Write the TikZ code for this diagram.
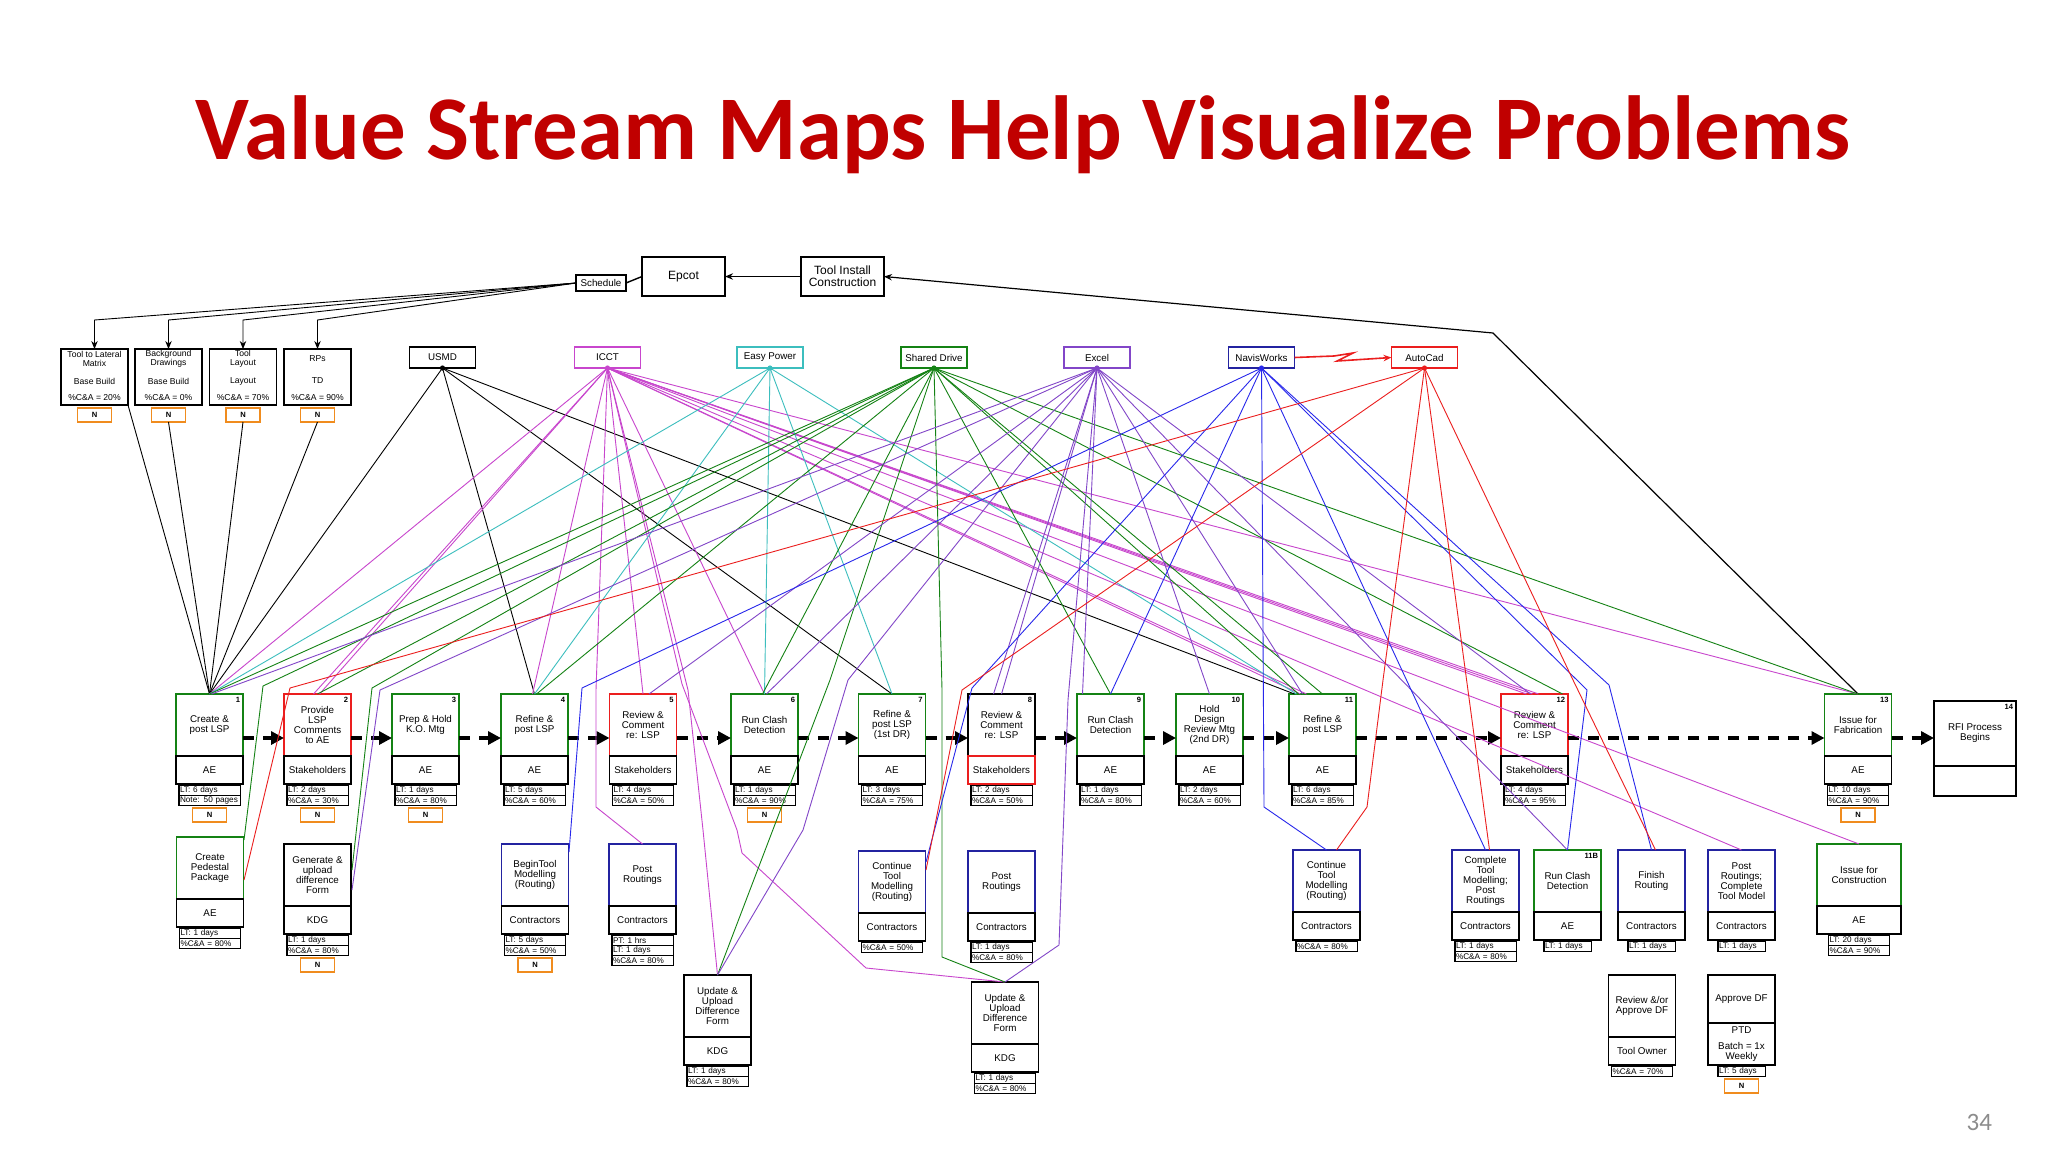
\documentclass[tikz,border=0pt]{standalone}
\usepackage{fontspec}
\setmainfont{Liberation Sans}
\newfontfamily\titlefont{Carlito}
\usetikzlibrary{arrows.meta}
\definecolor{vgreen}{RGB}{20,130,20}
\definecolor{vred}{RGB}{235,30,30}
\definecolor{vnavy}{RGB}{35,35,160}
\definecolor{vblue}{RGB}{40,40,235}
\definecolor{vmag}{RGB}{200,70,205}
\definecolor{vteal}{RGB}{60,190,190}
\definecolor{vpurp}{RGB}{130,70,200}
\definecolor{vorange}{RGB}{240,140,30}
\definecolor{titlered}{RGB}{192,0,0}
\definecolor{pggray}{RGB}{140,140,140}
\newcommand\fsz[1]{\fontsize{#1}{#1}\selectfont}
\tikzset{
  every node/.style={inner sep=0pt, outer sep=0pt},
  sec/.style={draw, line width=0.9pt, minimum width=33.5pt, align=center, font=\fsz{4.9}, anchor=north},
  data/.style={draw, line width=0.7pt, text width=29.5pt, inner xsep=0.6pt, minimum height=5pt, align=left, anchor=north, font=\fsz{4.1}},
  sdata/.style={data, text width=22.5pt},
  nbox/.style={draw=vorange, line width=0.8pt, minimum width=17pt, minimum height=7pt, anchor=north, font=\fsz{3.8}\bfseries},
  num/.style={anchor=north east, font=\fsz{3.8}\bfseries, xshift=-1.5pt, yshift=-1.5pt},
  tbox/.style={draw, line width=0.9pt},
  swbox/.style={draw, line width=0.8pt, minimum width=33pt, minimum height=10.5pt, font=\fsz{4.9}},
  tline/.style={font=\fsz{4.3}, align=center},
  conn/.style={line width=0.45pt},
  cblk/.style={conn, draw=black},
  cmag/.style={conn, draw=vmag},
  cteal/.style={conn, draw=vteal},
  cgrn/.style={conn, draw=vgreen},
  cpur/.style={conn, draw=vpurp},
  cblu/.style={conn, draw=vblue},
  cred/.style={conn, draw=vred},
  harrow/.style={-{Stealth[length=4pt,width=3.2pt]}},
  flow/.style={line width=2.2pt, dash pattern=on 5.5pt off 4.5pt, -{Triangle[length=6.5pt,width=6.5pt]}},
}
% #1 person colour, #2 name, #3 x, #4 top y, #5 top colour, #6 title, #7 person
\newcommand\procbox[7][black]{%
  \node[sec, draw=#5, minimum height=31pt] (#2) at (#3,#4) {#6};
  \node[sec, draw=#1, minimum height=14pt] (#2w) at (#2.south) {#7};
}
\newcommand\drows[3]{%
  \node[data] (#1a) at ([yshift=-0.6pt]#1w.south) {#2};
  \node[data] (#1b) at (#1a.south) {#3};
}
\newcommand\nmark[2]{\node[nbox] (#1n) at ([yshift=-1.5pt]#2.south) {N};}
\begin{document}
\begin{tikzpicture}[x=0.5pt,y=-0.5pt]
\useasboundingbox (0,0) rectangle (2048,1152);
\fill[white] (0,0) rectangle (2048,1152);
\node[font=\titlefont\bfseries\fsz{45.5}, text=titlered, anchor=base] (title) at (1023,159) {Value Stream Maps Help Visualize Problems};
\node[font=\titlefont\fsz{12.5}, text=pggray, anchor=base east] (pg) at (1992,1130) {34};

% ---------- top chain
\node[tbox, minimum width=25pt, minimum height=8pt, font=\fsz{4.9}] (sch) at (601,283) {Schedule};
\node[tbox, minimum width=41.5pt, minimum height=19.5pt, font=\fsz{6}] (epcot) at (683.5,276.5) {Epcot};
\node[tbox, minimum width=41.5pt, minimum height=19.5pt, font=\fsz{6}, align=center] (tic) at (842.5,276.5) {Tool Install\\Construction};

% ---------- top-left info boxes
\foreach \n/\cx/\ta/\tb/\tc in {t1/94.5/{Tool to Lateral\\Matrix}/Base Build/20\%, t2/168.5/{Background\\Drawings}/Base Build/0\%, t3/243/{Tool\\Layout}/Layout/70\%, t4/317.5/{RPs}/TD/90\%}{
  \node[tbox, minimum width=33.5pt, minimum height=28pt, anchor=north] (\n) at (\cx,349) {};
  \node[tline] (\n x) at (\cx,359) {\ta};
  \node[tline] (\n y) at (\cx,381) {\tb};
  \node[tline] (\n z) at (\cx,398) {\%C\&A = \tc};
  \node[nbox] (\n n) at (\cx,408) {N};
}

% ---------- software boxes
\node[swbox, draw=black] (usmd) at (442.5,357.5) {USMD};
\node[swbox, draw=vmag] (icct) at (607.5,357.5) {ICCT};
\node[swbox, draw=vteal] (ep) at (770,357.5) {Easy Power};
\node[swbox, draw=vgreen] (sd) at (934,357.5) {Shared Drive};
\node[swbox, draw=vpurp] (xl) at (1097,357.5) {Excel};
\node[swbox, draw=vnavy] (nw) at (1261.5,357.5) {NavisWorks};
\node[swbox, draw=vred] (ac) at (1424.5,357.5) {AutoCad};

% ---------- main process row
\procbox{p1}{209.5}{694}{vgreen}{Create \&\\post LSP}{AE}
\drows{p1}{LT: 6 days}{Note: 50 pages}\nmark{p1}{p1b}
\procbox{p2}{317.5}{694}{vred}{Provide\\LSP\\Comments\\to AE}{Stakeholders}
\drows{p2}{LT: 2 days}{\%C\&A = 30\%}\nmark{p2}{p2b}
\procbox{p3}{425.5}{694}{vgreen}{Prep \& Hold\\K.O. Mtg}{AE}
\drows{p3}{LT: 1 days}{\%C\&A = 80\%}\nmark{p3}{p3b}
\procbox{p4}{534.5}{694}{vgreen}{Refine \&\\post LSP}{AE}
\drows{p4}{LT: 5 days}{\%C\&A = 60\%}
\procbox{p5}{643}{694}{vred}{Review \&\\Comment\\re: LSP}{Stakeholders}
\drows{p5}{LT: 4 days}{\%C\&A = 50\%}
\procbox{p6}{764.5}{694}{vgreen}{Run Clash\\Detection}{AE}
\drows{p6}{LT: 1 days}{\%C\&A = 90\%}\nmark{p6}{p6b}
\procbox{p7}{892}{694}{vgreen}{Refine \&\\post LSP\\(1st DR)}{AE}
\drows{p7}{LT: 3 days}{\%C\&A = 75\%}
\procbox[vred]{p8}{1001.5}{694}{black}{Review \&\\Comment\\re: LSP}{Stakeholders}
\drows{p8}{LT: 2 days}{\%C\&A = 50\%}
\procbox{p9}{1110.5}{694}{vgreen}{Run Clash\\Detection}{AE}
\drows{p9}{LT: 1 days}{\%C\&A = 80\%}
\procbox{p10}{1209.5}{694}{vgreen}{Hold\\Design\\Review Mtg\\(2nd DR)}{AE}
\drows{p10}{LT: 2 days}{\%C\&A = 60\%}
\procbox{p11}{1322.5}{694}{vgreen}{Refine \&\\post LSP}{AE}
\drows{p11}{LT: 6 days}{\%C\&A = 85\%}
\procbox{p12}{1534.5}{694}{vred}{Review \&\\Comment\\re: LSP}{Stakeholders}
\drows{p12}{LT: 4 days}{\%C\&A = 95\%}
\procbox{p13}{1858}{694}{vgreen}{Issue for\\Fabrication}{AE}
\drows{p13}{LT: 10 days}{\%C\&A = 90\%}\nmark{p13}{p13b}
\node[sec, minimum width=41pt, minimum height=32.5pt] (p14) at (1975,701) {RFI Process\\Begins};
\node[sec, minimum width=41pt, minimum height=15pt] (p14w) at (p14.south) {};
\foreach \k in {1,...,14} \node[num] at (p\k.north east) {\k};

% process flow arrows
\foreach \a/\b in {p1/p2,p2/p3,p3/p4,p4/p5,p5/p6,p6/p7,p7/p8,p8/p9,p9/p10,p10/p11,p11/p12,p12/p13,p13/p14}
  \draw[flow] ([yshift=-6.5pt]\a.east) -- ([yshift=-6.5pt]\a.east -| \b.west);

% ---------- second row
\procbox{cpp}{210}{837}{vgreen}{Create\\Pedestal\\Package}{AE}
\drows{cpp}{LT: 1 days}{\%C\&A = 80\%}
\procbox{gen}{317.5}{844}{black}{Generate \&\\upload\\difference\\Form}{KDG}
\drows{gen}{LT: 1 days}{\%C\&A = 80\%}\nmark{gen}{genb}
\procbox{bt}{535}{844}{vnavy}{BeginTool\\Modelling\\(Routing)}{Contractors}
\drows{bt}{LT: 5 days}{\%C\&A = 50\%}\nmark{bt}{btb}
\procbox{pra}{642.5}{844}{vnavy}{Post\\Routings}{Contractors}
\drows{pra}{PT: 1 hrs}{LT: 1 days}
\node[data] (prac) at (prab.south) {\%C\&A = 80\%};
\procbox{updl}{717.5}{975}{black}{Update \&\\Upload\\Difference\\Form}{KDG}
\drows{updl}{LT: 1 days}{\%C\&A = 80\%}
\procbox{ctl}{892}{851}{vnavy}{Continue\\Tool\\Modelling\\(Routing)}{Contractors}
\node[data] (ctla) at ([yshift=-0.6pt]ctlw.south) {\%C\&A = 50\%};
\procbox{prb}{1001.5}{851}{vnavy}{Post\\Routings}{Contractors}
\drows{prb}{LT: 1 days}{\%C\&A = 80\%}
\procbox{updr}{1005}{982}{black}{Update \&\\Upload\\Difference\\Form}{KDG}
\drows{updr}{LT: 1 days}{\%C\&A = 80\%}
\procbox{ctr}{1326.5}{850}{vnavy}{Continue\\Tool\\Modelling\\(Routing)}{Contractors}
\node[data] (ctra) at ([yshift=-0.6pt]ctrw.south) {\%C\&A = 80\%};
\procbox{ctm}{1485.5}{850}{vnavy}{Complete\\Tool\\Modelling;\\Post\\Routings}{Contractors}
\drows{ctm}{LT: 1 days}{\%C\&A = 80\%}
\procbox{rc}{1567.5}{850}{vgreen}{Run Clash\\Detection}{AE}
\node[sdata] (rca) at ([yshift=-0.6pt]rcw.south) {LT: 1 days};
\node[num] at (rc.north east) {11B};
\procbox{fr}{1651.5}{850}{vnavy}{Finish\\Routing}{Contractors}
\node[sdata] (fra) at ([yshift=-0.6pt]frw.south) {LT: 1 days};
\procbox{prc}{1741.5}{850}{vnavy}{Post\\Routings;\\Complete\\Tool Model}{Contractors}
\node[sdata] (prca) at ([yshift=-0.6pt]prcw.south) {LT: 1 days};
\node[sec, draw=vgreen, minimum width=42pt, minimum height=31pt] (ifc) at (1859,844) {Issue for\\Construction};
\node[sec, minimum width=42pt, minimum height=14pt] (ifcw) at (ifc.south) {AE};
\drows{ifc}{LT: 20 days}{\%C\&A = 90\%}
% third row
\procbox{rad}{1642}{975}{black}{Review \&/or\\Approve DF}{Tool Owner}
\node[data] (rada) at ([yshift=-0.6pt]radw.south) {\%C\&A = 70\%};
\node[sec, minimum height=24pt] (adf) at (1741.5,975) {Approve DF};
\node[sec, minimum height=21pt] (adfw) at (adf.south) {PTD\\[3.5pt]Batch = 1x\\Weekly};
\node[sdata] (adfa) at ([yshift=-0.6pt]adfw.south) {LT: 5 days};
\nmark{adf}{adfa}

% ---------- black connectors
\foreach \b/\cx in {t1/94.5,t2/168.5,t3/243,t4/317.5}
  \draw[cblk, harrow] (sch.west) -- (\cx,320) -- (\b.north);
\draw[cblk, line width=0.7pt] (sch.east) -- (epcot.west);
\draw[cblk, line width=0.7pt, harrow] (tic.west) -- (epcot.east);
\draw[cblk, line width=0.6pt, harrow] (p13.north) -- (1493,333) -- (tic.east);
\draw[cblk] (t1.south east) -- (p1.north);
\foreach \b in {t2n,t3n,t4n} \draw[cblk] (\b.south) -- (p1.north);
\foreach \d/\t in {0/p1, 0/p4, 0/p7, -14/p11}
  \draw[cblk] (usmd.south) -- ([xshift=\d pt]\t.north);

% ICCT (magenta)
\foreach \d/\t in {0/p1, 1/p2, -2/p2, -1/p4, 0/p5, 0/p6, -11/p11, -8/p11, -4/p12, -1/p12, 2/p12, 0/p13, 0/prc, 0/ifc}
  \draw[cmag] (icct.south) -- ([xshift=\d pt]\t.north);
\draw[cmag] (icct.south) -- (596,690) -- (596,807) -- (pra.north);
\draw[cmag] (icct.south) -- (688,690) -- (703,830) -- (updl.north);
\draw[cmag] (icct.south) -- (682,684) -- (737,830) -- (742,853) -- (866,968) -- (updr.north);

% Easy Power (teal)
\foreach \d/\t in {0/p1, 0/p4, 0/p6, 0/p7, -13/p11}
  \draw[cteal] (ep.south) -- ([xshift=\d pt]\t.north);

% Shared Drive (green)
\foreach \d/\t in {0/p1, 0/p2, 1/p4, -1/p6, 0/p9, -12/p11, 0/p11, 14/p12, 0/p13}
  \draw[cgrn] (sd.south) -- ([xshift=\d pt]\t.north);
\draw[cgrn] (sd.south) -- (263,686) -- (244,840);
\draw[cgrn] (sd.south) -- (372,688) -- (352,870);
\draw[cgrn] (sd.south) -- (830,680) -- (updl.north);
\draw[cgrn] (sd.south) -- (942,690) -- (942,957) -- (updr.north);

% Excel (purple)
\foreach \d/\t in {1/p1, 3/p5, 1/p6, 0/p8, -4/p8, -14/p9, 0/p10, -10/p11, -2/p12, 0/rc}
  \draw[cpur] (xl.south) -- ([xshift=\d pt]\t.north);
\draw[cpur] (xl.south) -- (380,690) -- (352,890);
\draw[cpur] (xl.south) -- (848,680) -- (803,830) -- (updl.north);
\draw[cpur] (xl.south) -- (1068,700) -- (1059,945) -- (updr.north);

% NavisWorks (blue)
\draw[cblu] (nw.south) -- (582,688) -- (569,852);
\draw[cblu] (nw.south) -- (972,688) -- (926,862);
\draw[cblu] (nw.south) -- (p9.north);
\draw[cblu] (nw.south) -- (1264,807) -- (ctr.north);
\draw[cblu] (nw.south) -- (ctm.north);
\draw[cblu] (nw.south) -- (1587,690) -- (rc.north);
\draw[cblu] (nw.south) -- (1609,685) -- (fr.north);

% AutoCad (red)
\draw[cred] (ac.south) -- (290,688) -- (244,880);
\draw[cred] (ac.south) -- (962,690) -- (926,870);
\draw[cred] (ac.south) -- (1383,680) -- (1367,807) -- ([xshift=5pt]ctr.north);
\draw[cred] (ac.south) -- ([xshift=2pt]ctm.north);
\draw[cred] (ac.south) -- (1573,680) -- ([xshift=2pt]fr.north);
\draw[cred, line width=0.8pt, harrow] (nw.east) -- (1334,356) -- (1353,353) -- (1337,361) -- (ac.west);

% source dots
\foreach \s/\c in {usmd/black, icct/vmag, ep/vteal, sd/vgreen, xl/vpurp, nw/vblue, ac/vred}
  \fill[\c] (\s.south) circle (1.3pt);
\end{tikzpicture}
\end{document}
